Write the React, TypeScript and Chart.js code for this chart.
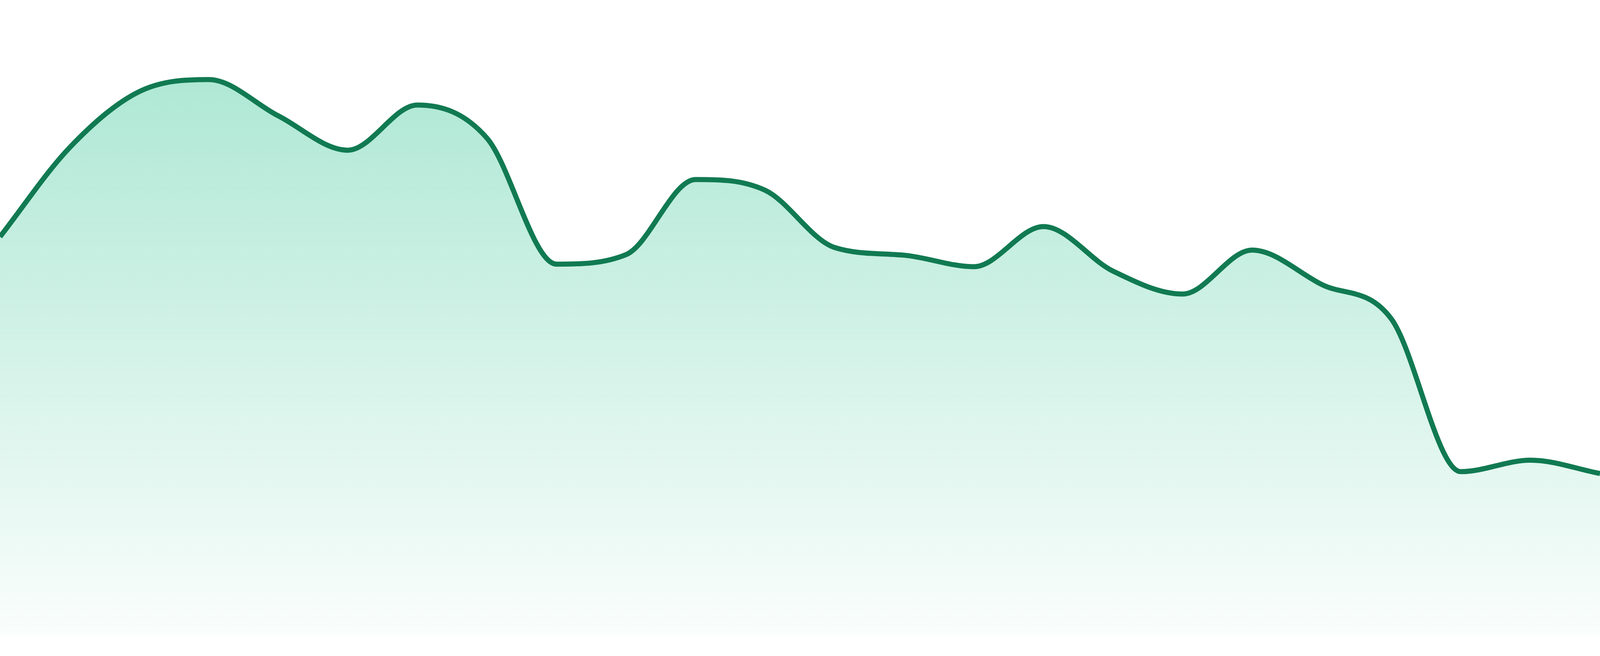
import { useEffect, useRef } from "react"
import { Chart, registerables } from "chart.js"

Chart.register(...registerables)

// one label per point, evenly spaced across the full width
const labels = [
  "1", "2", "3", "4", "5", "6", "7", "8", "9", "10", "11", "12",
  "13", "14", "15", "16", "17", "18", "19", "20", "21", "22", "23", "24",
]

const values = [
  62.8, 76.8, 85.6, 87.5, 81.8, 76.4, 83.5, 78.3, 58.5, 60.0, 71.8, 70.1,
  61.1, 59.9, 58.1, 64.4, 57.4, 53.8, 60.7, 55.3, 49.9, 25.9, 27.7, 25.6,
]

const yMin = 0
const yMax = 100

export default function App() {
  const chartRef = useRef<HTMLCanvasElement>(null)
  const chartInstance = useRef<Chart | null>(null)

  useEffect(() => {
    if (!chartRef.current) return
    if (chartInstance.current) chartInstance.current.destroy()

    const ctx = chartRef.current.getContext("2d")
    if (!ctx) return

    chartInstance.current = new Chart(ctx, {
      type: "line",
      data: {
        labels,
        datasets: [
          {
            data: values,
            borderColor: "#117a52",
            borderWidth: 13,
            pointRadius: 0,
            cubicInterpolationMode: "monotone",
            fill: "start",
            backgroundColor: (context: any) => {
              const { chart } = context
              const area = chart.chartArea
              if (!area) return "rgba(16, 185, 129, 0.2)"
              const g = chart.ctx.createLinearGradient(0, area.top, 0, area.bottom)
              g.addColorStop(0, "rgba(16, 185, 129, 0.38)")
              g.addColorStop(1, "rgba(16, 185, 129, 0.02)")
              return g
            },
          },
        ],
      },
      options: {
        responsive: true,
        maintainAspectRatio: false,
        animation: false,
        layout: { padding: { top: 0, right: 0, bottom: 50, left: 0 } },
        plugins: {
          legend: { display: false },
          tooltip: { enabled: false },
        },
        scales: {
          x: { display: false, offset: false },
          y: { display: false, min: yMin, max: yMax },
        },
      },
    })

    return () => {
      if (chartInstance.current) {
        chartInstance.current.destroy()
        chartInstance.current = null
      }
    }
  }, [])

  return (
    <div style={{ position: "fixed", left: 0, top: 0, width: "100vw", height: "100vh", background: "#fff" }}>
      <canvas ref={chartRef} />
    </div>
  )
}
